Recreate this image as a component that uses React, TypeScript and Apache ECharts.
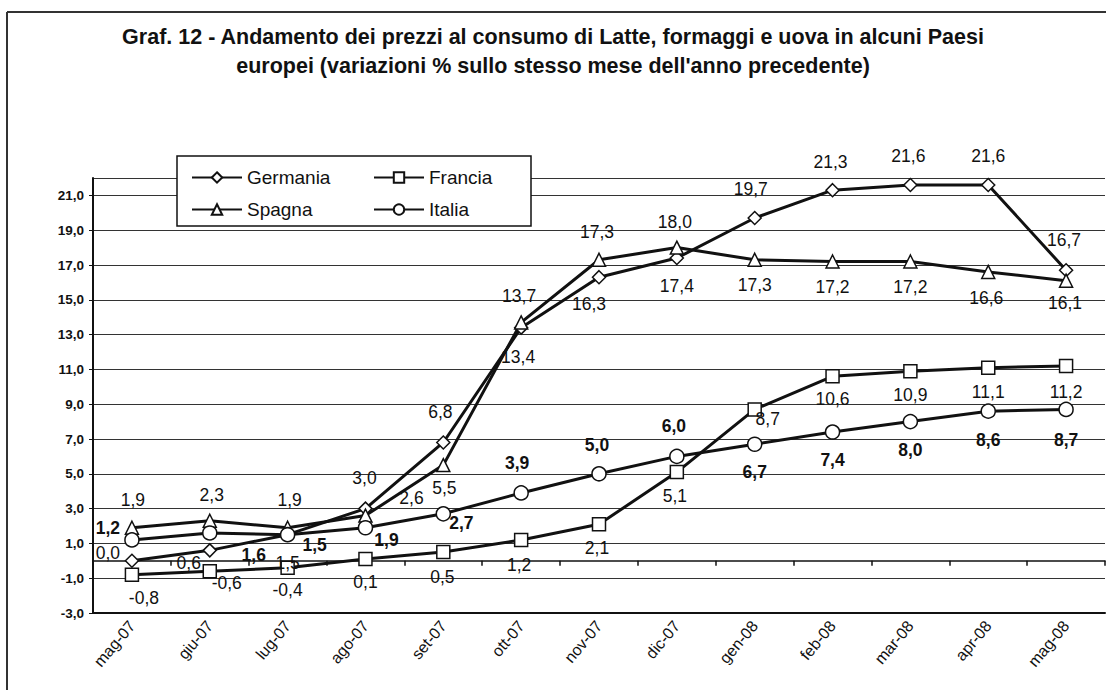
import React, { useEffect, useRef } from "react";
import * as echarts from "echarts";

const categories = ["mag-07", "giu-07", "lug-07", "ago-07", "set-07", "ott-07", "nov-07", "dic-07", "gen-08", "feb-08", "mar-08", "apr-08", "mag-08"];
const germania = [0.0, 0.6, 1.5, 3.0, 6.8, 13.4, 16.3, 17.4, 19.7, 21.3, 21.6, 21.6, 16.7];
const francia = [-0.8, -0.6, -0.4, 0.1, 0.5, 1.2, 2.1, 5.1, 8.7, 10.6, 10.9, 11.1, 11.2];
const spagna = [1.9, 2.3, 1.9, 2.6, 5.5, 13.7, 17.3, 18.0, 17.3, 17.2, 17.2, 16.6, 16.1];
const italia = [1.2, 1.6, 1.5, 1.9, 2.7, 3.9, 5.0, 6.0, 6.7, 7.4, 8.0, 8.6, 8.7];

const titleText = "Graf. 12 - Andamento dei prezzi al consumo di Latte, formaggi e uova in alcuni Paesi\neuropei (variazioni % sullo stesso mese dell'anno precedente)";

// label placement (offset of label centre from the point), layout only
const germaniaLabelOffsets = [[-24, -8], [-21, 13], [0, 28], [-1, -31], [-3, -30], [-3, 29], [-10, 27], [0, 28], [-4, -29], [-2, -28], [-2, -29], [0, -29], [-2, -30]];
const franciaLabelOffsets = [[12, 23], [17, 12], [0, 22], [0, 23], [-1, 25], [-2, 25], [-2, 24], [-2, 24], [13, 10], [0, 23], [0, 24], [0, 24], [0, 26]];
const spagnaLabelOffsets = [[1, -28], [2, -26], [2, -28], [46, -18], [1, 23], [-2, -26], [-2, -28], [-2, -26], [0, 25], [0, 25], [0, 25], [-2, 26], [-1, 22]];
const italiaLabelOffsets = [[-24, -12], [44, 22], [27, 10], [21, 12], [18, 9], [-4, -30], [-2, -29], [-3, -30], [0, 28], [0, 28], [0, 28], [0, 29], [0, 31]];

const fmt = (v: number) => v.toFixed(1).replace(".", ",");

function buildSeries(name: string, values: number[], offsets: number[][], symbol: string, bold: boolean) {
  return {
    name,
    type: "line",
    symbol,
    symbolSize: symbol === "circle" ? 14 : 13,
    showAllSymbol: true,
    lineStyle: { color: "#111", width: 3 },
    itemStyle: { color: "#fff", borderColor: "#111", borderWidth: 1.5 },
    label: {
      show: true,
      position: "inside",
      formatter: (p: any) => fmt(p.value),
      fontFamily: "Liberation Sans, Arial, sans-serif",
      fontSize: 17.5,
      fontWeight: bold ? "bold" : "normal",
      color: "#111",
    },
    data: values.map((v, i) => ({ value: v, label: { offset: offsets[i] } })),
  };
}

export default function App() {
  const ref = useRef<HTMLDivElement>(null);
  useEffect(() => {
    if (!ref.current) return;
    const chart = echarts.init(ref.current, undefined, { renderer: "svg" });
    const font = "Liberation Sans, Arial, sans-serif";
    chart.setOption({
      animation: false,
      backgroundColor: "#fff",
      title: {
        text: titleText,
        left: "center",
        top: 17,
        textStyle: { fontFamily: font, fontSize: 21.5, fontWeight: "bold", color: "#111", lineHeight: 29 },
      },
      grid: { left: 93, right: 1, top: 178, bottom: 77, containLabel: false },
      legend: [
        {
          orient: "vertical",
          left: 186,
          top: 163,
          itemGap: 13,
          itemWidth: 50,
          itemHeight: 13,
          z: 6,
          data: ["Germania", "Spagna"],
          textStyle: { fontFamily: font, fontSize: 19, color: "#111" },
        },
        {
          orient: "vertical",
          left: 368,
          top: 163,
          itemGap: 13,
          itemWidth: 50,
          itemHeight: 13,
          z: 6,
          data: ["Francia", "Italia"],
          textStyle: { fontFamily: font, fontSize: 19, color: "#111" },
        },
      ],
      xAxis: [
        {
          type: "category",
          data: categories,
          position: "bottom",
          boundaryGap: true,
          axisLine: { show: true, onZero: false, lineStyle: { color: "#111", width: 2 } },
          axisTick: { show: false },
          axisLabel: { interval: 0, rotate: 50, margin: 10, fontFamily: font, fontSize: 16, color: "#111" },
          splitLine: { show: false },
        },
        {
          type: "category",
          data: categories,
          position: "bottom",
          boundaryGap: true,
          axisLine: { show: true, onZero: true, lineStyle: { color: "#111", width: 1.5 } },
          axisTick: { show: true, length: 5, lineStyle: { color: "#111", width: 1.5 } },
          axisLabel: { show: false },
          splitLine: { show: false },
        },
      ],
      yAxis: {
        type: "value",
        min: -3,
        max: 22,
        interval: 2,
        axisLine: { show: true, lineStyle: { color: "#111", width: 2 } },
        axisTick: { show: true, length: 4, lineStyle: { color: "#111" } },
        axisLabel: {
          margin: 9,
          fontFamily: font,
          fontSize: 13.5,
          fontWeight: "bold",
          color: "#111",
          showMaxLabel: false,
          formatter: (v: number) => (v > 21.5 ? "" : fmt(v)),
        },
        splitLine: { show: true, lineStyle: { color: "#333", width: 1.2 } },
      },
      graphic: [
        { type: "line", shape: { x1: 7, y1: 12, x2: 1106, y2: 12 }, style: { stroke: "#333", lineWidth: 2 }, z: 10 },
        { type: "line", shape: { x1: 7, y1: 12, x2: 7, y2: 690 }, style: { stroke: "#333", lineWidth: 2 }, z: 10 },
        { type: "rect", shape: { x: 177, y: 156, width: 354, height: 70 }, style: { fill: "#fff", stroke: "#111", lineWidth: 1.5 }, z: 3 },
      ],
      series: [
        buildSeries("Germania", germania, germaniaLabelOffsets, "diamond", false),
        buildSeries("Francia", francia, franciaLabelOffsets, "rect", false),
        buildSeries("Spagna", spagna, spagnaLabelOffsets, "triangle", false),
        buildSeries("Italia", italia, italiaLabelOffsets, "circle", true),
      ],
    });
    return () => chart.dispose();
  }, []);
  return <div ref={ref} style={{ position: "fixed", left: 0, top: 0, width: 1106, height: 690 }} />;
}
